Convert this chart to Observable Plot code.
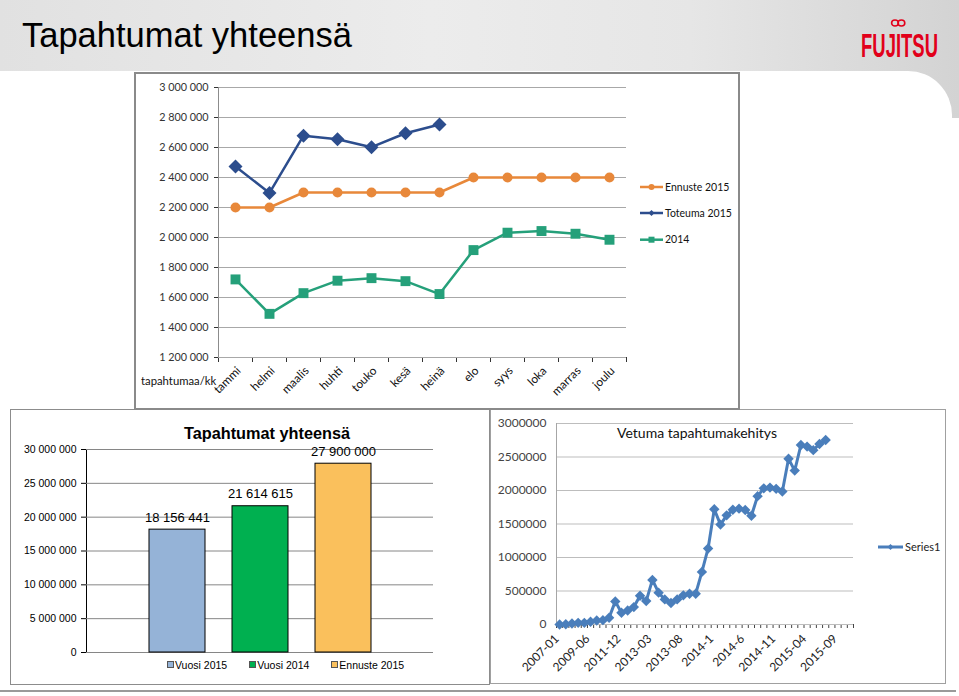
<!DOCTYPE html>
<html><head><meta charset="utf-8">
<script src="https://cdn.jsdelivr.net/npm/d3@7"></script>
<script src="https://cdn.jsdelivr.net/npm/@observablehq/plot@0.6"></script>
<style>
html,body{margin:0;padding:0;background:#fff;}
body{width:959px;height:696px;position:relative;overflow:hidden;font-family:"Liberation Sans",Arial,sans-serif;}
.abs{position:absolute;}
.box{position:absolute;box-sizing:border-box;background:#fff;}
svg{overflow:visible;}
</style></head><body>
<div class="abs" style="left:0;top:0;width:959px;height:118px;background:linear-gradient(90deg,#e1e1e1,#ececec 45%,#e6e6e6 72%,#d3d3d3);"></div>
<div class="abs" style="left:0;top:71px;width:952px;height:625px;background:#fff;border-top-right-radius:44px;"></div>
<div class="abs" style="left:22px;top:18px;font-size:34.5px;line-height:34px;color:#000;white-space:nowrap;">Tapahtumat yhteensä</div>
<div id="logo" class="abs" style="left:861px;top:30px;font-family:'Liberation Sans Narrow','Liberation Sans',Arial,sans-serif;font-weight:bold;font-size:34px;line-height:30px;color:#e2001a;white-space:nowrap;transform-origin:0 0;">FUJITSU</div>
<svg class="abs" style="left:890px;top:18px;" width="16" height="12"><g fill="none" stroke="#e2001a" stroke-width="1.6"><ellipse cx="5" cy="5" rx="3.4" ry="3"/><ellipse cx="11.4" cy="5" rx="3.4" ry="3"/></g></svg>

<div class="box" style="left:10px;top:409px;width:480px;height:276px;border:1.5px solid #8c8c8c;"></div>
<div class="box" style="left:490px;top:409px;width:456px;height:275px;border:1.5px solid #a0a0a0;"></div>
<div class="box" style="left:134px;top:72px;width:606px;height:338px;border:2px solid #8a8a8a;"></div>
<div class="abs" style="left:0;top:690px;width:956px;height:2px;background:#9a9a9a;"></div>

<div id="topChart" class="abs" style="left:134px;top:72px;"></div>
<div id="barChart" class="abs" style="left:10px;top:409px;"></div>
<div id="trendChart" class="abs" style="left:490px;top:409px;"></div>

<script>
// ---------- Data ----------
const months = ["tammi","helmi","maalis","huhti","touko","kesä","heinä","elo","syys","loka","marras","joulu"];
const ennuste2015 = [2200000,2200000,2300000,2300000,2300000,2300000,2300000,2400000,2400000,2400000,2400000,2400000];
const toteuma2015 = [2473000,2297000,2679000,2655000,2602000,2695000,2753000];
const vuosi2014 = [1720600,1491000,1629000,1712000,1729000,1709000,1623000,1916000,2032000,2043000,2025000,1985000];
const topSeriesNames = ["Ennuste 2015","Toteuma 2015","2014"];
const topYTicks = [1200000,1400000,1600000,1800000,2000000,2200000,2400000,2600000,2800000,3000000];

const barCategories = ["Vuosi 2015","Vuosi 2014","Ennuste 2015"];
const barValues = [18156441,21614615,27900000];
const barYTicks = [0,5000000,10000000,15000000,20000000,25000000,30000000];

const trendPeriods = ["2007-01","2007-07","2008-01","2008-07","2009-01","2009-06","2009-12","2010-06","2010-12","2011-06",
  "2011-12","2012-03","2012-06","2012-09","2012-12","2013-03","2013-04","2013-05","2013-06","2013-07",
  "2013-08","2013-09","2013-10","2013-11","2013-12","2014-1","2014-2","2014-3","2014-4","2014-5",
  "2014-6","2014-7","2014-8","2014-9","2014-10","2014-11","2014-12","2015-01","2015-02","2015-03",
  "2015-04","2015-05","2015-06","2015-07","2015-08","2015-09","2015-10","2015-11"];
const trendValues = [0,3000,15000,25000,25000,40000,60000,65000,100000,345000,
  175000,210000,260000,430000,350000,665000,475000,375000,320000,375000,
  435000,460000,460000,785000,1135000,1720600,1491000,1629000,1712000,1729000,
  1709000,1623000,1916000,2032000,2043000,2025000,1985000,2473000,2297000,2679000,
  2655000,2602000,2695000,2753000];
const trendTickLabels = ["2007-01","2009-06","2011-12","2013-03","2013-08","2014-1","2014-6","2014-11","2015-04","2015-09"];
const trendYTicks = [0,500000,1000000,1500000,2000000,2500000,3000000];

// ---------- Styles ----------
const ORANGE = "#e8883a", NAVY = "#2c4d8d", TEAL = "#25a07a";
const BLUE = "#4a7ebb";
const barColors = ["#95b3d7","#00b050","#fac05c"];
const fmtSpace = d => d3.format(",")(d).replace(/,/g, " ");
const diamond = {draw(ctx, size){ const r = Math.sqrt(size/Math.PI); ctx.moveTo(0,-r); ctx.lineTo(r,0); ctx.lineTo(0,r); ctx.lineTo(-r,0); ctx.closePath(); }};
const calibri = "Lato, 'Open Sans', sans-serif";

// ---------- Top chart ----------
const ennData = ennuste2015.map((v,i)=>({i,v}));
const totData = toteuma2015.map((v,i)=>({i,v}));
const v14Data = vuosi2014.map((v,i)=>({i,v}));
const topBounds = months.map((_,i)=>i-0.5).concat([months.length-0.5]);

const topPlot = Plot.plot({
  width: 606, height: 337,
  marginLeft: 84, marginRight: 114, marginTop: 15, marginBottom: 52,
  style: {fontFamily: calibri, fontSize: "10.8px", color: "#333", background: "transparent", overflow: "visible"},
  x: {domain: [-0.5, months.length-0.5], ticks: topBounds, tickSize: 5, tickFormat: () => "", label: null},
  y: {domain: [1200000, 3000000], ticks: topYTicks, tickSize: 4, tickPadding: 6, tickFormat: fmtSpace, label: null},
  marks: [
    Plot.ruleY(topYTicks, {stroke: "#a8a8a8"}),
    Plot.ruleX([-0.5], {stroke: "#8c8c8c"}),
    Plot.line(v14Data, {x: "i", y: "v", stroke: TEAL, strokeWidth: 2.5}),
    Plot.dot(v14Data, {x: "i", y: "v", fill: TEAL, r: 5.6, symbol: "square"}),
    Plot.line(ennData, {x: "i", y: "v", stroke: ORANGE, strokeWidth: 2.5}),
    Plot.dot(ennData, {x: "i", y: "v", fill: ORANGE, r: 5, symbol: "circle"}),
    Plot.line(totData, {x: "i", y: "v", stroke: NAVY, strokeWidth: 2.5}),
    Plot.dot(totData, {x: "i", y: "v", fill: NAVY, r: 7, symbol: diamond}),
    Plot.text(months, {x: (d,i) => i, frameAnchor: "bottom", text: d => d, rotate: -45, textAnchor: "end", dx: 6, dy: 14, fontSize: 11.8, fill: "#111"})
  ]
});
document.getElementById("topChart").append(topPlot);

// top legend
(function(){
  const colors = [ORANGE, NAVY, TEAL];
  const syms = ["circle","diamond","square"];
  const svg = d3.select("body").append("svg").attr("class","abs")
    .style("left","636px").style("top","175px").attr("width",100).attr("height",75);
  const ys = [12, 38, 64.7];
  topSeriesNames.forEach((name,k)=>{
    const g = svg.append("g").attr("transform",`translate(0,${ys[k]})`);
    g.append("line").attr("x1",4).attr("x2",27).attr("stroke",colors[k]).attr("stroke-width",2.5);
    if (syms[k]==="circle") g.append("circle").attr("cx",15.5).attr("r",3).attr("fill",colors[k]);
    else if (syms[k]==="diamond") g.append("path").attr("d","M15.5,-3L18.5,0L15.5,3L12.5,0Z").attr("fill",colors[k]);
    else g.append("rect").attr("x",12.5).attr("y",-3).attr("width",6).attr("height",6).attr("fill",colors[k]);
    g.append("text").attr("x",29).attr("dy","0.35em").attr("font-family",calibri).attr("font-size","10.5px").attr("fill","#111").text(name);
  });
})();

// axis caption
d3.select("body").append("div").attr("class","abs")
  .style("left","141px").style("top","374px").style("font-family",calibri).style("font-size","11.3px").style("line-height","14px").style("color","#111")
  .text("tapahtumaa/kk");

// ---------- Bar chart ----------
const barData = barCategories.map((c,i)=>({c, v: barValues[i]}));
const barPlot = Plot.plot({
  width: 480, height: 276,
  marginLeft: 76, marginRight: 57, marginTop: 40, marginBottom: 33,
  style: {fontFamily: "'Liberation Sans', Arial, sans-serif", fontSize: "10.5px", color: "#000", background: "transparent", overflow: "visible"},
  x: {domain: barCategories, paddingInner: 0.331, paddingOuter: 0.737, axis: null},
  y: {domain: [0, 30000000], ticks: barYTicks, tickSize: 5, tickPadding: 5, tickFormat: fmtSpace, label: null, line: true},
  color: {domain: barCategories, range: barColors},
  marks: [
    Plot.ruleY(barYTicks, {stroke: "#868686"}),
    Plot.barY(barData, {x: "c", y: "v", fill: "c", stroke: "#000", strokeWidth: 1}),
    Plot.text(barData, {x: "c", y: "v", text: d => fmtSpace(d.v), dy: -12, fontSize: 13, fill: "#000"})
  ]
});
document.getElementById("barChart").append(barPlot);

d3.select("body").append("div").attr("class","abs")
  .style("left","167px").style("top","425px").style("width","200px").style("text-align","center")
  .style("font-size","16.3px").style("line-height","16px").style("font-weight","bold").style("color","#000")
  .text("Tapahtumat yhteensä");

(function(){
  const leg = d3.select("body").append("div").attr("class","abs")
    .style("left","167px").style("top","658px").style("font-size","10.5px").style("line-height","14px").style("white-space","nowrap");
  barCategories.forEach((c,i)=>{
    const it = leg.append("span").style("display","inline-block").style("margin-right", i < 2 ? "22px" : "0");
    it.append("span").style("display","inline-block").style("width","5px").style("height","5px")
      .style("border","1px solid #555").style("background",barColors[i]).style("margin-right","1px").style("vertical-align","1px");
    it.append("span").text(c);
  });
})();

// ---------- Trend chart ----------
const trendData = trendValues.map((v,i)=>({i, p: trendPeriods[i], v}));
const trendBounds = trendPeriods.map((_,i)=>i-0.5).concat([trendPeriods.length-0.5]);
const trendPlot = Plot.plot({
  width: 456, height: 274,
  marginLeft: 66, marginRight: 93, marginTop: 14, marginBottom: 59,
  style: {fontFamily: calibri, fontSize: "12px", color: "#444", background: "transparent", overflow: "visible"},
  x: {domain: [-0.5, trendPeriods.length-0.5], ticks: trendBounds, tickSize: 4, tickFormat: () => "", label: null},
  y: {domain: [0, 3000000], ticks: trendYTicks, tickSize: 0, tickPadding: 10, tickFormat: d => String(d), label: null},
  marks: [
    Plot.ruleY(trendYTicks, {stroke: "#bdbdbd"}),
    Plot.ruleX([-0.5], {stroke: "#a6a6a6"}),
    Plot.line(trendData, {x: "i", y: "v", stroke: BLUE, strokeWidth: 3}),
    Plot.dot(trendData, {x: "i", y: "v", fill: BLUE, r: 5.2, symbol: diamond}),
    Plot.text(trendTickLabels, {x: d => trendPeriods.indexOf(d), frameAnchor: "bottom", text: d => d, rotate: -45, textAnchor: "end", dx: 0, dy: 15, fontSize: 12, fill: "#222"})
  ]
});
document.getElementById("trendChart").append(trendPlot);

d3.select("body").append("div").attr("class","abs")
  .style("left","597px").style("top","425px").style("width","200px").style("text-align","center")
  .style("font-family",calibri).style("font-size","14px").style("line-height","16px").style("color","#111")
  .text("Vetuma tapahtumakehitys");

(function(){
  const svg = d3.select("body").append("svg").attr("class","abs")
    .style("left","876px").style("top","537px").attr("width",70).attr("height",20);
  const g = svg.append("g").attr("transform","translate(0,10)");
  g.append("line").attr("x1",2).attr("x2",27).attr("stroke",BLUE).attr("stroke-width",3);
  g.append("path").attr("d","M14.5,-3L17.5,0L14.5,3L11.5,0Z").attr("fill",BLUE);
  g.append("text").attr("x",29).attr("dy","0.35em").attr("font-family",calibri).attr("font-size","11px").attr("fill","#222").text("Series1");
})();

// fit logo width
(function(){
  const el = document.getElementById("logo");
  const w = el.getBoundingClientRect().width;
  if (w > 0) el.style.transform = `scaleX(${77 / w})`;
})();
</script>
</body></html>
